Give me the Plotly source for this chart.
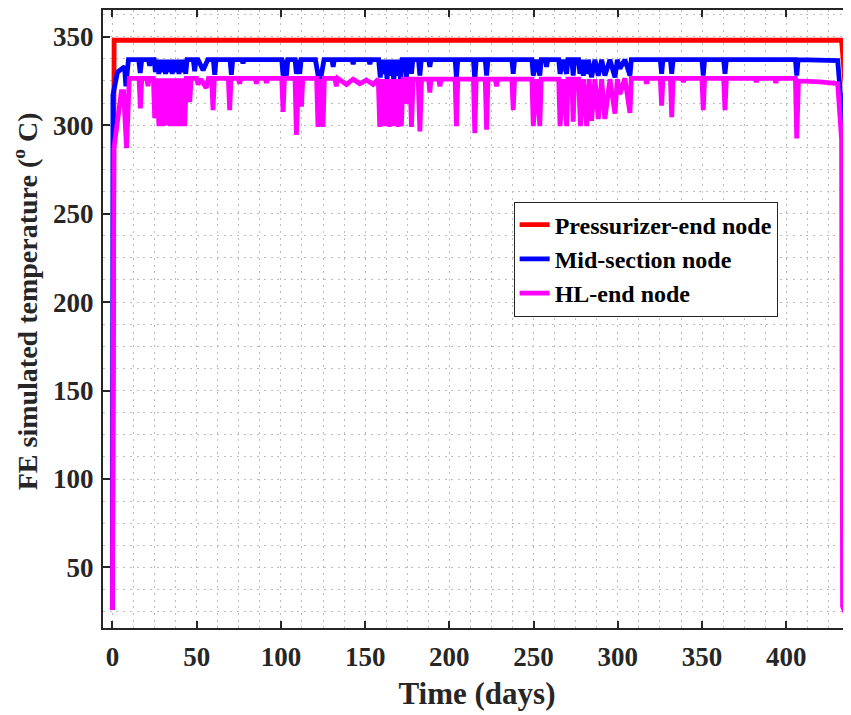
import plotly.graph_objects as go

# ---------------- data ----------------
red_days = [0, 1.0, 432.8, 435.3, 440]
red_temp = [26, 348, 348, 318, 230]

blue_days = [
    0, 0.3, 3, 5.3, 7.2, 8.0, 9.5,
    15.6, 16.5, 17.4,
    21.4, 22.1, 22.8,
    24.8, 25.5, 26.5, 27.5, 28.5, 29.5, 30.5, 31.5, 32.5, 33.5, 34.5, 35.5, 36.5, 37.5, 38.5, 39.5, 40.5, 41.5, 42.5, 43.5, 44.3,
    48.0, 48.8, 49.6,
    50.8, 53.8, 56.6,
    59.9, 60.7, 61.5,
    69.8, 70.6, 71.4,
    76.8, 77.5, 78.2,
    100.5, 101.3, 102.3, 103.3, 104.1,
    108.4, 109.2, 110.2, 111.2, 112.0,
    120.5, 123.0, 125.6,
    130.3, 131.0, 131.7,
    142.2, 142.9, 143.6,
    152.1, 152.8, 153.5,
    158.0, 159.0, 160.0, 161.0, 162.0, 163.0, 164.0, 165.0, 166.0, 167.0, 168.0, 169.0, 170.0, 171.0, 172.0,
    173.7, 174.5, 175.3,
    176.7, 177.5, 178.3,
    181.7, 182.5, 183.3,
    187.7, 188.4, 189.1,
    203.4, 204.2, 205.0,
    214.3, 215.1, 215.9,
    221.3, 222.1, 222.9,
    237.1, 237.9, 238.7,
    249.0, 249.8, 251.8, 253.7, 254.5,
    257.0, 257.7, 258.4,
    264.9, 265.7, 267.7, 269.6, 270.4,
    272.7, 273.5, 274.3,
    276.7, 277.5, 278.5, 279.5, 280.5, 281.5, 282.5, 284.4, 286.4, 288.4, 290.4, 292.3, 295.3, 298.3, 299.7, 301.2, 304.2, 307.2, 308.0,
    325.2, 326.0, 326.8,
    331.2, 332.0, 332.8,
    349.9, 350.7, 351.5,
    362.8, 363.6, 364.4,
    405.4, 406.2, 407.0,
    430.5, 432.0, 433.8, 435.5, 439.0,
]
blue_temp = [
    26, 317, 330, 332, 333, 322, 337,
    337, 329.5, 337,
    337, 333.5, 337,
    337, 330, 337, 329, 337, 330, 337, 329, 337, 330, 337, 329, 337, 330, 337, 329, 337, 330, 337, 329, 337,
    337, 330.5, 337,
    337, 331, 337,
    337, 328.5, 337,
    337, 328.5, 337,
    337, 335, 337,
    337, 328, 337, 328, 337,
    337, 329, 337, 329, 337,
    337, 323, 337,
    337, 333, 337,
    337, 334.5, 337,
    337, 334.5, 337,
    337, 327, 337, 329, 337, 326, 337, 328, 337, 325, 337, 328, 337, 326, 337,
    337, 327, 337,
    337, 329, 337,
    337, 328, 337,
    337, 333, 337,
    337, 327, 337,
    337, 325, 337,
    337, 328, 337,
    337, 329, 337,
    337, 328, 337, 328, 337,
    337, 333, 337,
    337, 329, 337, 329, 337,
    337, 328, 337,
    337, 329, 337, 328, 337, 329, 337, 327, 337, 328, 337, 328, 337, 327, 337, 332, 337, 328, 337,
    337, 329, 337,
    337, 329, 337,
    337, 328, 337,
    337, 329, 337,
    337, 328, 337,
    336.5, 319, 300, 287, 150,
]

mag_days = [
    0, 0.9, 5.3, 6.6, 8.4, 10.0,
    15.8, 16.6, 17.4,
    20.4, 21.1, 21.8,
    24.3, 25.1, 26.3, 27.6, 28.8, 30.0, 31.0, 31.9, 33.1, 34.4, 35.4, 36.3, 37.3, 38.3, 39.6, 40.9, 41.9, 42.9, 43.9,
    45.1, 45.9, 46.7,
    50.0, 50.8, 52.5, 55.7, 57.0,
    58.9, 59.7, 60.5,
    68.8, 69.6, 70.4,
    74.7, 75.5, 76.3,
    84.7, 85.5, 86.3,
    90.6, 91.4, 92.2,
    100.5, 101.3, 102.1,
    108.4, 109.2, 110.5, 111.4, 112.2, 113.0,
    121.2, 122.0, 123.5, 125.0, 125.8,
    132.1, 132.9, 133.7,
    138.9, 142.9, 146.8, 150.8, 154.7, 157.8,
    158.7, 160.2, 161.7, 163.1, 164.6, 165.6, 166.6, 168.1, 169.6, 170.5, 171.5, 172.5,
    173.7, 174.5, 175.3,
    176.7, 177.5, 178.5,
    181.5, 182.5, 183.5,
    187.7, 188.4, 189.1,
    193.7, 194.4, 195.1,
    203.4, 204.2, 205.0,
    214.3, 215.1, 215.9,
    221.3, 222.1, 222.9,
    227.3, 228.0, 228.7,
    237.1, 237.9, 238.7,
    249.0, 249.8, 251.8, 253.7, 254.5,
    264.9, 265.7, 267.7, 269.6, 270.4,
    272.7, 273.5, 274.3,
    276.7, 277.8, 279.6, 281.5, 283.0, 284.4, 286.4, 288.4, 290.4, 292.3, 295.3, 298.3, 299.7, 301.2, 304.2, 307.2, 308.0,
    316.3, 317.1, 317.9,
    325.2, 326.0, 326.8,
    331.2, 332.0, 332.8,
    338.1, 338.9, 339.7,
    349.9, 350.7, 351.5,
    362.8, 363.6, 364.4,
    381.4, 382.2, 383.0,
    393.0, 393.8, 394.6,
    405.4, 406.2, 407.2,
    420.0, 430.5, 432.8, 433.4, 434.2, 435.5,
]
mag_temp = [
    26, 287, 319, 319, 287, 326.5,
    326.5, 309.5, 326.5,
    326.5, 322, 326.5,
    326.5, 304, 326.5, 299.5, 326.5, 299.5, 326.5, 300, 326.5, 299.5, 326.5, 299.5, 326.5, 299.5, 326.5, 299.5, 326.5, 299.5, 326.5,
    326.5, 313, 326.5,
    326.5, 323, 326, 321, 326.5,
    326.5, 308.5, 326.5,
    326.5, 308.5, 326.5,
    326.5, 323.5, 326.5,
    326.5, 323.5, 326.5,
    326.5, 324, 326.5,
    326.5, 307.5, 326.5,
    326.5, 294.5, 326.5, 326.5, 310.5, 326.5,
    326.5, 299, 326, 299, 326.5,
    326.5, 322, 326.5,
    323, 326, 323.5, 325.5, 323, 326,
    299, 326, 299.5, 326, 299, 326, 299.5, 326, 299, 326, 299.5, 326,
    326, 312, 326,
    326, 299, 326,
    326, 296.5, 326,
    326, 318.5, 326,
    326, 322, 326,
    326, 299.5, 326,
    326, 295.5, 326,
    326, 297.5, 326,
    326, 322, 326,
    326, 308.5, 326,
    326, 299.5, 326, 299.5, 326,
    326, 299.5, 326, 299.5, 326,
    326, 302, 326,
    326, 299.5, 326, 299.5, 326, 302.5, 326, 303.5, 326, 303.5, 326, 306.5, 326, 317.5, 326.5, 307, 326.5,
    326.5, 323.5, 326.5,
    326.5, 311, 326.5,
    326.5, 304.5, 326.5,
    326.5, 324.5, 326.5,
    326.5, 308.5, 326.5,
    326.5, 308.5, 326.5,
    326.5, 324.5, 326.5,
    326.5, 324, 326.5,
    326.5, 292.5, 325,
    324.5, 323.5, 292, 28, 26, 26.5,
]

series_names = ["Pressurizer-end node", "Mid-section node", "HL-end node"]
series_colors = ["#ff0000", "#0000ff", "#ff00ff"]

x_ticks = [0, 50, 100, 150, 200, 250, 300, 350, 400]
y_ticks = [50, 100, 150, 200, 250, 300, 350]

# ---------------- figure ----------------
FONT = "Liberation Serif"
AX = "#262626"
GRID = "#bdbdbd"

fig = go.Figure()
for d, t, name, col in [
    (red_days, red_temp, series_names[0], series_colors[0]),
    (blue_days, blue_temp, series_names[1], series_colors[1]),
    (mag_days, mag_temp, series_names[2], series_colors[2]),
]:
    fig.add_trace(go.Scatter(x=d, y=t, mode="lines", name=name,
                             line=dict(color=col, width=4.8)))

common = dict(
    showline=True, linecolor=AX, linewidth=2,
    ticks="inside", ticklen=7, tickwidth=2, tickcolor=AX,
    showgrid=True, gridcolor=GRID, gridwidth=1, griddash="2px,4.7px",
    zeroline=False, automargin=False,
    tickfont=dict(family=FONT, size=27, color=AX, weight="bold"),
)

fig.update_xaxes(
    range=[-5.6, 438.4], tickvals=x_ticks, mirror="ticks",
    minor=dict(dtick=12.5, tick0=0, showgrid=True, gridcolor=GRID,
               gridwidth=1, griddash="2px,4.7px"),
    ticklabelstandoff=4,
    title=dict(text="Time (days)", standoff=11,
               font=dict(family=FONT, size=31, color=AX, weight="bold")),
    **common,
)
fig.update_yaxes(
    range=[15.8, 365.1], tickvals=y_ticks, mirror=False,
    minor=dict(dtick=12.5, tick0=0, showgrid=True, gridcolor=GRID,
               gridwidth=1, griddash="2px,4.7px"),
    ticklabelstandoff=2,
    **common,
)

fig.add_annotation(
    text="FE simulated temperature (<sup>o</sup> C)",
    xref="paper", yref="paper", x=-0.104, y=0.529,
    xanchor="center", yanchor="middle", textangle=-90, showarrow=False,
    font=dict(family=FONT, size=28, color=AX, weight="bold"),
)

# the page adds an 8px body margin, so the figure is 8px smaller
fig.update_layout(
    width=843, height=707,
    margin=dict(l=95, r=0, t=2, b=87),
    paper_bgcolor="white", plot_bgcolor="white",
    showlegend=True,
    legend=dict(x=0.549, y=0.69, xanchor="left", yanchor="top",
                bgcolor="white", bordercolor=AX, borderwidth=1,
                font=dict(family=FONT, size=24, color="black", weight="bold"),
                tracegroupgap=0),
)

fig.write_html("out.html")
